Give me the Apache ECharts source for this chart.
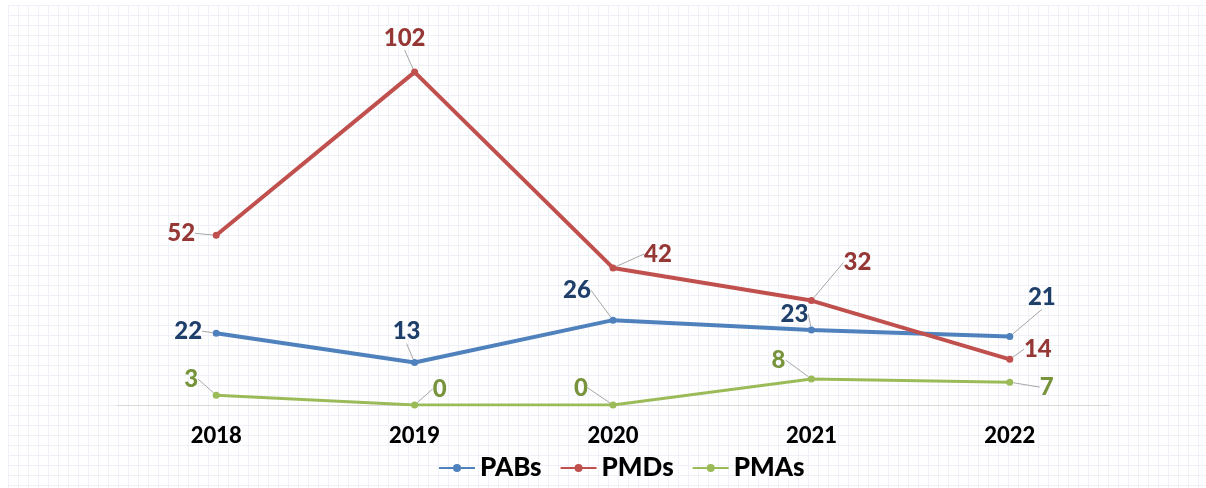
<!DOCTYPE html>
<html><head><meta charset="utf-8">
<script src="https://cdn.jsdelivr.net/npm/echarts@6/dist/echarts.min.js"></script>
<style>
html,body{margin:0;padding:0;background:#fff;}
#wrap{position:absolute;left:8px;top:5px;width:1198px;height:483px;
background-color:#fff;
background-image:linear-gradient(to right,#eff1f9 1px,transparent 1px),linear-gradient(to bottom,#eff1f9 1px,transparent 1px);
background-size:10px 10px;}
#c{position:absolute;left:0;top:0;width:1206px;height:488px;}
</style></head>
<body>
<div id="wrap"></div>
<div id="c"></div>
<script>
const categories = ['2018','2019','2020','2021','2022'];
const pabs = [22, 13, 26, 23, 21];
const pmds = [52, 102, 42, 32, 14];
const pmas = [3, 0, 0, 8, 7];

// label offsets (style only): [dx, dy] from point
const offPABs = [[-28,-2],[-8,-31],[-36,-30],[-17,-16],[32,-39]];
const offPMDs = [[-35,-2],[-10,-34],[45,-14],[46,-38],[28,-10]];
const offPMAs = [[-25,-16],[25,-16],[-32,-17],[-33,-19],[37,5]];

const chart = echarts.init(document.getElementById('c'), null, {renderer:'canvas'});
function mk(name, data, color, labelColor, width, offs){
  return {
    name, type:'line', data,
    symbol:'circle', symbolSize:7,
    lineStyle:{color, width},
    itemStyle:{color},
    label:{show:true, position:'inside', color:labelColor, fontSize:24, fontWeight:900, fontFamily:'Lato'},
    labelLine:{show:true, lineStyle:{color:'#a6a6a6', width:1}, length2:0},
    labelLayout:function(p){ const o = offs[p.dataIndex]; return {dx:o[0], dy:o[1]}; },
    z: name==='PMDs'?3:2
  };
}
chart.setOption({
  animation:false,
  backgroundColor:'transparent',
  grid:{left:117, right:97, top:46, bottom:83},
  xAxis:{type:'category', data:categories, boundaryGap:true,
    axisLine:{lineStyle:{color:'#d9d9d9', width:1}},
    axisTick:{show:false},
    axisLabel:{color:'#000', fontSize:22, fontWeight:900, fontFamily:'Lato', margin:20}},
  yAxis:{type:'value', min:0, max:110, show:false, splitLine:{show:false}},
  legend:{bottom:2, left:433, itemWidth:36, itemHeight:10, itemGap:18,
    textStyle:{color:'#000', fontSize:26, fontWeight:900, fontFamily:'Lato'},
    data:['PABs','PMDs','PMAs']},
  series:[
    mk('PABs', pabs, '#4f81bd', '#1f3f6b', 4, offPABs),
    mk('PMDs', pmds, '#c0504d', '#953735', 4, offPMDs),
    mk('PMAs', pmas, '#9bbb59', '#77933c', 3, offPMAs)
  ]
});
</script>
</body></html>
